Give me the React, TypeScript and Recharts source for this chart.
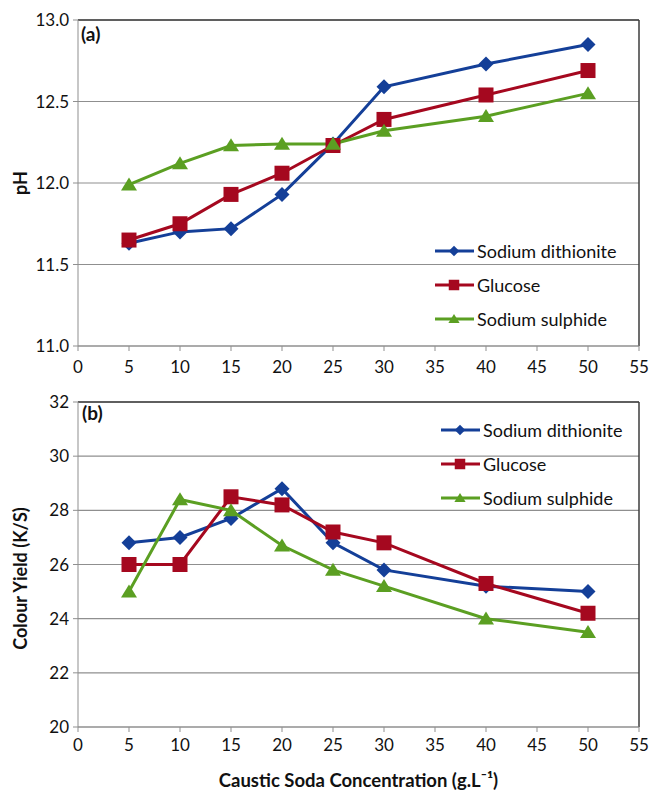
import React from 'react';
import {
  LineChart,
  Line,
  XAxis,
  YAxis,
  CartesianGrid,
  ReferenceLine,
} from 'recharts';

const concentrations = [5, 10, 15, 20, 25, 30, 40, 50];

const phDithionite = [11.63, 11.7, 11.72, 11.93, 12.24, 12.59, 12.73, 12.85];
const phGlucose = [11.65, 11.75, 11.93, 12.06, 12.23, 12.39, 12.54, 12.69];
const phSulphide = [11.99, 12.12, 12.23, 12.24, 12.24, 12.32, 12.41, 12.55];

const ksDithionite = [26.8, 27.0, 27.7, 28.8, 26.8, 25.8, 25.2, 25.0];
const ksGlucose = [26.0, 26.0, 28.5, 28.2, 27.2, 26.8, 25.3, 24.2];
const ksSulphide = [25.0, 28.4, 28.0, 26.7, 25.8, 25.2, 24.0, 23.5];

const xTicks = [0, 5, 10, 15, 20, 25, 30, 35, 40, 45, 50, 55];
const phTicks = [11, 11.5, 12, 12.5, 13];
const ksTicks = [20, 22, 24, 26, 28, 30, 32];

const series = [
  { key: 'dith', name: 'Sodium dithionite', color: '#143f98', shape: 'diamond' },
  { key: 'gluc', name: 'Glucose', color: '#a5081f', shape: 'square' },
  { key: 'sulph', name: 'Sodium sulphide', color: '#5b9f22', shape: 'triangle' },
];

const phData = concentrations.map((x, i) => ({
  x,
  dith: phDithionite[i],
  gluc: phGlucose[i],
  sulph: phSulphide[i],
}));

const ksData = concentrations.map((x, i) => ({
  x,
  dith: ksDithionite[i],
  gluc: ksGlucose[i],
  sulph: ksSulphide[i],
}));

const FONT = 'Lato, "Open Sans", sans-serif';
const GRID = '#8f8f8f';
const FRAME = '#3c3c3c';

function Marker({ cx, cy, shape, color, scale = 1 }: any) {
  if (cx == null || cy == null) return null;
  if (shape === 'diamond') {
    const r = 7.5 * scale;
    return (
      <path
        d={`M${cx},${cy - r} L${cx + r},${cy} L${cx},${cy + r} L${cx - r},${cy} Z`}
        fill={color}
      />
    );
  }
  if (shape === 'square') {
    const h = 7.5 * scale;
    return <rect x={cx - h} y={cy - h} width={h * 2} height={h * 2} fill={color} />;
  }
  const w = 8 * scale;
  const hgt = 13 * scale;
  return (
    <path
      d={`M${cx},${cy - hgt * 0.55} L${cx + w},${cy + hgt * 0.45} L${cx - w},${cy + hgt * 0.45} Z`}
      fill={color}
    />
  );
}

function LegendBox({ left, top }: { left: number; top: number }) {
  return (
    <div style={{ position: 'absolute', left, top, fontFamily: FONT, fontSize: 18, color: '#111' }}>
      {series.map((s) => (
        <div key={s.key} style={{ display: 'flex', alignItems: 'center', height: 34 }}>
          <svg width={42} height={20}>
            <line x1={1} y1={10} x2={40} y2={10} stroke={s.color} strokeWidth={3} />
            <Marker cx={20} cy={10} shape={s.shape} color={s.color} scale={0.7} />
          </svg>
          <span style={{ marginLeft: 1 }}>{s.name}</span>
        </div>
      ))}
    </div>
  );
}

// rotated y-axis title, placed by hand relative to the axis box
function AxisTitle({ viewBox, value, dy = 0 }: any) {
  const x = viewBox.x + 20;
  const y = viewBox.y + viewBox.height / 2 + dy;
  return (
    <text
      x={x}
      y={y}
      transform={`rotate(-90, ${x}, ${y})`}
      textAnchor="middle"
      dominantBaseline="central"
      fontFamily={FONT}
      fontWeight={700}
      fontSize={18}
      fill="#111"
    >
      {value}
    </text>
  );
}

const tickStyle = { fill: '#111', fontSize: 17, fontFamily: FONT };

export default function App() {
  return (
    <div
      style={{
        position: 'absolute',
        left: 0,
        top: 0,
        width: 652,
        height: 791,
        background: '#ffffff',
        fontFamily: FONT,
      }}
    >
      <LineChart
        width={652}
        height={380}
        data={phData}
        margin={{ top: 20, right: 13, left: 0, bottom: 4 }}
      >
        <CartesianGrid vertical={false} stroke={GRID} strokeWidth={1.2} />
        <XAxis
          dataKey="x"
          type="number"
          domain={[0, 55]}
          ticks={xTicks}
          interval={0}
          height={30}
          tick={tickStyle}
          stroke={GRID}
          tickSize={5}
          tickMargin={10}
        />
        <YAxis
          type="number"
          domain={[11, 13]}
          ticks={phTicks}
          interval={0}
          width={78}
          tick={tickStyle}
          stroke={GRID}
          tickSize={5}
          tickMargin={4}
          tickFormatter={(v) => v.toFixed(1)}
          label={(p: any) => <AxisTitle viewBox={p.viewBox} value="pH" />}
        />
        <ReferenceLine y={13} stroke={FRAME} strokeWidth={1.5} />
        <ReferenceLine x={55} stroke={FRAME} strokeWidth={1.5} />
        {series.map((s) => (
          <Line
            key={s.key}
            dataKey={s.key}
            name={s.name}
            stroke={s.color}
            strokeWidth={3}
            isAnimationActive={false}
            dot={(p: any) => <Marker key={`${s.key}-${p.index}`} cx={p.cx} cy={p.cy} shape={s.shape} color={s.color} />}
            activeDot={false}
          />
        ))}
      </LineChart>
      <div style={{ position: 'absolute', left: 81, top: 22, fontWeight: 700, fontSize: 19, color: '#111' }}>(a)</div>
      <LegendBox left={434} top={234} />

      <LineChart
        width={652}
        height={411}
        data={ksData}
        margin={{ top: 22, right: 13, left: 0, bottom: 0 }}
      >
        <CartesianGrid vertical={false} stroke={GRID} strokeWidth={1.2} />
        <XAxis
          dataKey="x"
          type="number"
          domain={[0, 55]}
          ticks={xTicks}
          interval={0}
          height={64}
          tick={tickStyle}
          stroke={GRID}
          tickSize={5}
          tickMargin={7}
          label={{
            value: 'Caustic Soda Concentration (g.L⁻¹)',
            position: 'insideBottom',
            offset: 4,
            style: { fontWeight: 700, fontSize: 18.5, fill: '#111', fontFamily: FONT },
          }}
        />
        <YAxis
          type="number"
          domain={[20, 32]}
          ticks={ksTicks}
          interval={0}
          width={78}
          tick={tickStyle}
          stroke={GRID}
          tickSize={5}
          tickMargin={4}
          label={(p: any) => <AxisTitle viewBox={p.viewBox} value="Colour Yield (K/S)" dy={14} />}
        />
        <ReferenceLine y={32} stroke={FRAME} strokeWidth={1.5} />
        <ReferenceLine x={55} stroke={FRAME} strokeWidth={1.5} />
        {series.map((s) => (
          <Line
            key={s.key}
            dataKey={s.key}
            name={s.name}
            stroke={s.color}
            strokeWidth={3}
            isAnimationActive={false}
            dot={(p: any) => <Marker key={`${s.key}-${p.index}`} cx={p.cx} cy={p.cy} shape={s.shape} color={s.color} />}
            activeDot={false}
          />
        ))}
      </LineChart>
      <div style={{ position: 'absolute', left: 82, top: 401, fontWeight: 700, fontSize: 19, color: '#111' }}>(b)</div>
      <LegendBox left={440} top={413} />
    </div>
  );
}
